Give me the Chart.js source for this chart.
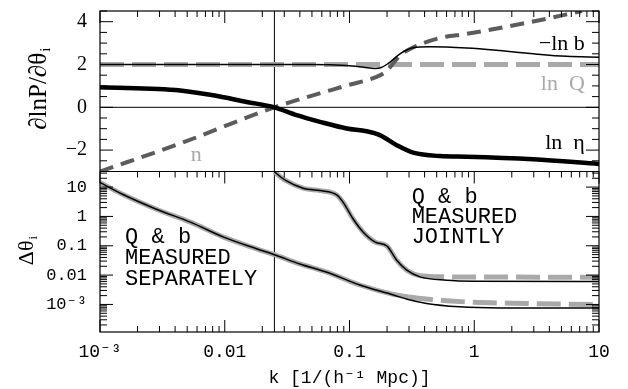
<!doctype html>
<html lang="en">
 <head>
  <meta charset="utf-8">
  <title>dlnP/dtheta and parameter errors</title>
  <style>
body { margin: 0; background: #fff; }
canvas { display: block; }
  </style>
 </head>
 <body>
  <canvas id="derivchart" width="628" height="389"></canvas>
  <script src="https://cdn.jsdelivr.net/npm/chart.js@4.4.0/dist/chart.umd.min.js"></script>
  <script>
// x axis: k in 1/(h^-1 Mpc), shared by both panels
const kTicks = [0.001, 0.01, 0.1, 1, 10];
const kTickLabels = ['10\u207B\u00B3', '0.01', '0.1', '1', '10'];
const kPivot = 0.025;

// top panel: dlnP/dtheta_i
const topTicks = [4, 2, 0, -2];
const topTickLabels = ['4', '2', '0', '\u22122'];

const kLnB = [0.001, 0.01, 0.05, 0.095, 0.13, 0.16, 0.18, 0.21, 0.254, 0.324, 0.44, 0.87, 1.6, 2.97, 5.5, 10];
const lnB = [2.0, 2.0, 2.0, 1.95, 1.87, 1.81, 1.86, 2.1, 2.5, 2.78, 2.83, 2.77, 2.65, 2.5, 2.38, 2.34];

const kLnQ = [0.001, 10];
const lnQ = [2.0, 2.0];

const kN = [0.001, 0.0044, 0.025, 0.051, 0.095, 0.175, 0.2, 0.254, 0.324, 0.53, 0.87, 2.97, 7.3];
const nDeriv = [-3.0, -1.69, 0.0, 0.56, 1.02, 1.49, 1.72, 2.42, 2.8, 3.24, 3.43, 4.01, 4.5];

const kLnEta = [0.001, 0.0044, 0.0081, 0.015, 0.025, 0.0377, 0.058, 0.095, 0.137, 0.175, 0.239, 0.324, 0.53, 0.87, 2.97, 10];
const lnEta = [0.94, 0.79, 0.56, 0.25, 0.0, -0.37, -0.68, -0.99, -1.12, -1.3, -1.77, -2.12, -2.28, -2.31, -2.43, -2.65];

// bottom panel: delta theta_i
const errTicks = [10, 1, 0.1, 0.01, 0.001];
const errTickLabels = ['10', '1', '0.1', '0.01', '10\u207B\u00B3'];

// Q & b measured separately
const kSep = [0.001, 0.0015, 0.0028, 0.0053, 0.0098, 0.018, 0.025, 0.04, 0.065, 0.121, 0.225, 0.29, 0.415, 0.76, 1.6, 10];
const errSepB = [14.4, 5.8, 1.8, 0.64, 0.197, 0.079, 0.0496, 0.024, 0.0128, 0.0046, 0.0021, 0.0015, 0.00108, 0.00083, 0.00076, 0.00076];
const kSepQ = [0.001, 0.0015, 0.0028, 0.0053, 0.0098, 0.018, 0.025, 0.04, 0.065, 0.121, 0.225, 0.3, 0.43, 0.6, 1, 2, 10];
const errSepQ = [14.4, 5.8, 1.8, 0.64, 0.197, 0.079, 0.0496, 0.024, 0.0128, 0.0046, 0.0022, 0.0018, 0.0015, 0.00134, 0.00118, 0.0011, 0.00098];

// Q & b measured jointly
const kJoint = [0.025, 0.031, 0.043, 0.058, 0.079, 0.089, 0.107, 0.129, 0.161, 0.2, 0.239, 0.288, 0.368, 0.6, 1, 10];
const errJointB = [33, 16.5, 9.0, 7.6, 5.4, 3.0, 0.82, 0.29, 0.133, 0.097, 0.032, 0.0147, 0.0087, 0.0067, 0.0062, 0.006];
const kJointQ = [0.025, 0.031, 0.043, 0.058, 0.079, 0.089, 0.107, 0.129, 0.161, 0.2, 0.239, 0.288, 0.368, 0.5, 1, 10];
const errJointQ = [33, 16.5, 9.0, 7.6, 5.4, 3.0, 0.82, 0.29, 0.133, 0.097, 0.032, 0.0147, 0.0095, 0.0088, 0.0086, 0.0085];

function pts(ks, vs) {
  return ks.map(function (k, i) { return {x: k, y: vs[i]}; });
}

const SERIF = '"Liberation Serif", "DejaVu Serif", serif';
const MONO = '"Liberation Mono", "DejaVu Sans Mono", monospace';
const GRAY = '#a9a9a9';

// first dataset is drawn on top
const datasets = [
  { data: pts(kLnEta, lnEta), yAxisID: 'yTop', borderColor: '#000', borderWidth: 4.5 },
  { data: pts(kLnB, lnB), yAxisID: 'yTop', borderColor: '#000', borderWidth: 1.5 },
  { data: pts(kN, nDeriv), yAxisID: 'yTop', borderColor: '#5c5c5c', borderWidth: 4, borderDash: [14, 8] },
  { data: pts(kLnQ, lnQ), yAxisID: 'yTop', borderColor: GRAY, borderWidth: 5, borderDash: [24, 8] },
  { data: pts(kSep, errSepB), yAxisID: 'yBot', borderColor: '#000', borderWidth: 1.5 },
  { data: pts(kJoint, errJointB), yAxisID: 'yBot', borderColor: '#000', borderWidth: 1.5 },
  { data: pts(kSepQ, errSepQ), yAxisID: 'yBot', borderColor: GRAY, borderWidth: 5,
    segment: { borderDash: function (c) { return c.p0.parsed.x >= 0.29 ? [24, 8] : undefined; } } },
  { data: pts(kJointQ, errJointQ), yAxisID: 'yBot', borderColor: GRAY, borderWidth: 5,
    segment: { borderDash: function (c) { return c.p0.parsed.x >= 0.36 ? [24, 8] : undefined; } } }
];
datasets.forEach(function (d) {
  d.pointRadius = 0;
  d.fill = false;
  d.cubicInterpolationMode = 'monotone';
  d.borderCapStyle = 'butt';
});

function hline(ctx, x1, y, x2) { ctx.beginPath(); ctx.moveTo(x1, y); ctx.lineTo(x2, y); ctx.stroke(); }
function vline(ctx, x, y1, y2) { ctx.beginPath(); ctx.moveTo(x, y1); ctx.lineTo(x, y2); ctx.stroke(); }

function logMinors(lo, hi) {
  const out = [];
  for (let e = Math.floor(Math.log10(lo)); e <= Math.ceil(Math.log10(hi)); e++) {
    for (let m = 1; m <= 9; m++) {
      const v = m * Math.pow(10, e);
      if (v >= lo * 0.999 && v <= hi * 1.001) out.push({v: v, major: m === 1});
    }
  }
  return out;
}

const panelDecor = {
  id: 'panelDecor',
  beforeDatasetsDraw(chart) {
    const {ctx, chartArea: a, scales} = chart;
    ctx.save();
    ctx.strokeStyle = '#000';
    ctx.lineWidth = 1;
    hline(ctx, a.left, scales.yTop.getPixelForValue(0), a.right);
    vline(ctx, scales.x.getPixelForValue(kPivot), a.top, a.bottom);
    ctx.restore();
  },
  afterDatasetsDraw(chart) {
    const {ctx, chartArea: a, scales} = chart;
    const x = scales.x, yT = scales.yTop, yB = scales.yBot;
    ctx.save();
    ctx.strokeStyle = '#000';
    ctx.lineWidth = 1.2;
    ctx.strokeRect(a.left, a.top, a.right - a.left, a.bottom - a.top);
    hline(ctx, a.left, yT.bottom, a.right);

    ctx.lineWidth = 1;
    // x ticks: top of upper panel, panel boundary, bottom
    logMinors(0.001, 10).forEach(function (t) {
      const px = x.getPixelForValue(t.v);
      const len = t.major ? 12 : 6;
      vline(ctx, px, a.top, a.top + len);
      vline(ctx, px, yT.bottom, yT.bottom + len);
      vline(ctx, px, a.bottom, a.bottom - len);
    });
    // top panel y ticks every 0.5
    for (let v = -3; v <= 4.5; v += 0.5) {
      const py = yT.getPixelForValue(v);
      const len = (v % 2 === 0) ? 13 : 7;
      hline(ctx, a.left, py, a.left + len);
      hline(ctx, a.right - len, py, a.right);
    }
    // bottom panel log ticks
    logMinors(yB.min, yB.max).forEach(function (t) {
      const py = yB.getPixelForValue(t.v);
      const len = t.major ? 13 : 7;
      hline(ctx, a.left, py, a.left + len);
      hline(ctx, a.right - len, py, a.right);
    });

    // curve labels
    ctx.textBaseline = 'alphabetic';
    ctx.font = '22px ' + SERIF;
    ctx.textAlign = 'right';
    const xr = x.getPixelForValue(7.7);
    ctx.fillStyle = '#000';
    ctx.fillText('\u2212ln b', xr, yT.getPixelForValue(2.66));
    ctx.fillStyle = GRAY;
    ctx.fillText('ln\u2002Q', xr, yT.getPixelForValue(0.79));
    ctx.fillStyle = '#000';
    ctx.fillText('ln\u2002\u03B7', xr, yT.getPixelForValue(-1.96));
    ctx.textAlign = 'center';
    ctx.fillStyle = GRAY;
    ctx.fillText('n', x.getPixelForValue(0.0059), yT.getPixelForValue(-2.52));

    ctx.fillStyle = '#000';
    ctx.font = '22px ' + MONO;
    ctx.textAlign = 'left';
    const xs = x.getPixelForValue(0.00159);
    ctx.fillText('Q & b', xs, yB.getPixelForValue(0.124));
    ctx.fillText('MEASURED', xs, yB.getPixelForValue(0.024));
    ctx.fillText('SEPARATELY', xs, yB.getPixelForValue(0.0047));
    const xj = x.getPixelForValue(0.315);
    ctx.fillText('Q & b', xj, yB.getPixelForValue(2.8));
    ctx.fillText('MEASURED', xj, yB.getPixelForValue(0.59));
    ctx.fillText('JOINTLY', xj, yB.getPixelForValue(0.124));

    // axis titles
    ctx.font = '18px ' + MONO;
    ctx.textAlign = 'center';
    ctx.textBaseline = 'middle';
    ctx.fillText('k [1/(h\u207B\u00B9 Mpc)]', (a.left + a.right) / 2, 378);

    drawRotated(ctx, '\u2202lnP/\u2202\u03B8', 'i', 25, 39, (yT.top + yT.bottom) / 2 - 2);
    drawRotated(ctx, '\u0394\u03B8', 'i', 22, 27, 251);
    ctx.restore();
  }
};

function drawRotated(ctx, main, sub, size, cx, cy) {
  ctx.save();
  ctx.translate(cx, cy);
  ctx.rotate(-Math.PI / 2);
  ctx.textAlign = 'left';
  ctx.textBaseline = 'middle';
  ctx.font = size + 'px ' + SERIF;
  const w1 = ctx.measureText(main).width;
  ctx.font = Math.round(size * 0.6) + 'px ' + SERIF;
  const w2 = ctx.measureText(sub).width;
  const x0 = -(w1 + w2) / 2;
  ctx.font = size + 'px ' + SERIF;
  ctx.fillText(main, x0, 0);
  ctx.font = Math.round(size * 0.6) + 'px ' + SERIF;
  ctx.fillText(sub, x0 + w1 + 1, size * 0.3);
  ctx.restore();
}

// fixed axis sizes so the plot box sits where the reference has it
function fitY(s) {
  s.width = 100;
  s.paddingTop = 0;
  s.paddingBottom = 0;
}

const noGrid = { display: false, drawTicks: false };
const noBorder = { display: false };

const chartConfig = {
  type: 'line',
  data: { datasets: datasets },
  options: {
    animation: false,
    responsive: false,
    layout: { padding: { top: 11, right: 29, left: 0, bottom: 0 } },
    plugins: { legend: { display: false }, tooltip: { enabled: false } },
    scales: {
      x: {
        type: 'logarithmic',
        min: 0.001,
        max: 10,
        grid: noGrid,
        border: noBorder,
        afterBuildTicks: function (s) { s.ticks = kTicks.map(function (v) { return {value: v}; }); },
        afterFit: function (s) { s.height = 57; s.paddingLeft = 0; s.paddingRight = 0; },
        ticks: {
          autoSkip: false,
          maxRotation: 0,
          padding: 9,
          color: '#000',
          font: { family: MONO, size: 18 },
          callback: function (v, i) { return kTickLabels[i]; }
        }
      },
      yBot: {
        type: 'logarithmic',
        position: 'left',
        stack: 'panels',
        stackWeight: 1,
        min: 1.15e-4,
        max: 34,
        grid: noGrid,
        border: noBorder,
        afterBuildTicks: function (s) { s.ticks = errTicks.map(function (v) { return {value: v}; }); },
        afterFit: fitY,
        ticks: {
          autoSkip: false,
          padding: 13,
          color: '#000',
          font: { family: MONO, size: 17 },
          callback: function (v, i) { return errTickLabels[i]; }
        }
      },
      yTop: {
        type: 'linear',
        position: 'left',
        stack: 'panels',
        stackWeight: 1,
        min: -3,
        max: 4.5,
        grid: noGrid,
        border: noBorder,
        afterBuildTicks: function (s) { s.ticks = topTicks.map(function (v) { return {value: v}; }); },
        afterFit: fitY,
        ticks: {
          autoSkip: false,
          padding: 13,
          color: '#000',
          font: { family: SERIF, size: 20 },
          callback: function (v, i) { return topTickLabels[i]; }
        }
      }
    }
  },
  plugins: [panelDecor]
};

const derivChart = new Chart(document.getElementById('derivchart'), chartConfig);
  </script>
 </body>
</html>
